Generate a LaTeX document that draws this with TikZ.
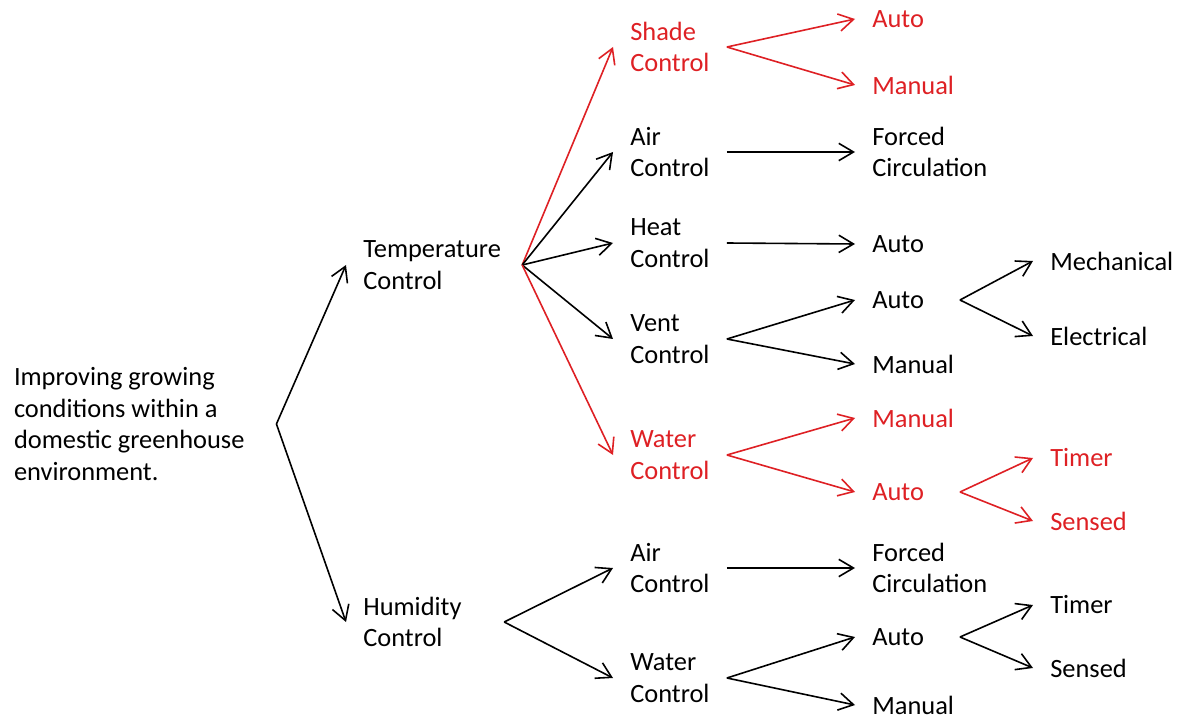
\documentclass[tikz,border=0pt]{standalone}
\usepackage{fontspec}
\setmainfont{Carlito}
\usepackage{xcolor}
\usepackage{tikz}
\usetikzlibrary{calc}
\usetikzlibrary{arrows.meta}
\definecolor{hilite}{RGB}{222,32,36}

\begin{document}
\begin{tikzpicture}[x=0.75pt,y=-0.75pt,
    lbl/.style={anchor=west, align=left, inner sep=0pt, outer xsep=13pt, outer ysep=0pt,
        font=\fontsize{19.8}{23.6}\selectfont},
    redlbl/.style={lbl, text=hilite},
    arr/.style={-{Straight Barb[length=11pt,width=13pt]}, line width=1.2pt},
    redarr/.style={arr, draw=hilite}]
        %FRAME
        \useasboundingbox (0,0) rectangle (1182,720);
        %ROOT
        \node[lbl, outer xsep=0pt] (root) at (14,424) {Improving growing\\conditions within a\\domestic greenhouse\\environment.};
        %LEVEL 1
        \node[lbl] (temp) at (346,265) {Temperature\\Control};
        \node[lbl] (hum) at (346,622) {Humidity\\Control};
        %LEVEL 2
        \node[redlbl] (shade) at (613,47) {Shade\\Control};
        \node[lbl] (tair) at (613,152) {Air\\Control};
        \node[lbl] (heat) at (613,243) {Heat\\Control};
        \node[lbl] (vent) at (613,339) {Vent\\Control};
        \node[redlbl] (twater) at (613,455) {Water\\Control};
        \node[lbl] (hair) at (613,568) {Air\\Control};
        \node[lbl] (hwater) at (613,678) {Water\\Control};
        %LEVEL 3
        \node[redlbl] (sauto) at (855,19) {Auto};
        \node[redlbl] (sman) at (855,85) {Manual};
        \node[lbl] (tforced) at (855,152) {Forced\\Circulation};
        \node[lbl] (hauto) at (855,244) {Auto};
        \node[lbl] (vauto) at (855,300) {Auto};
        \node[lbl] (vman) at (855,364) {Manual};
        \node[redlbl] (wman) at (855,418) {Manual};
        \node[redlbl] (wauto) at (855,492) {Auto};
        \node[lbl] (hforced) at (855,568) {Forced\\Circulation};
        \node[lbl] (hwauto) at (855,637) {Auto};
        \node[lbl] (hwman) at (855,705) {Manual};
        %LEVEL 4
        \node[lbl] (mech) at (1033,261) {Mechanical};
        \node[lbl] (elec) at (1033,336) {Electrical};
        \node[redlbl] (wtimer) at (1033,458) {Timer};
        \node[redlbl] (wsensed) at (1033,521) {Sensed};
        \node[lbl] (htimer) at (1033,605) {Timer};
        \node[lbl] (hsensed) at (1033,668) {Sensed};
        %ARROWS
        \coordinate (root-o) at ([xshift=24pt]root.east);
        \draw[arr] (root-o) -- (temp.west);
        \draw[arr] (root-o) -- (hum.west);
        \coordinate (temp-o) at ([xshift=3pt]temp.east);
        \draw[redarr] (temp-o) -- (shade.west);
        \draw[arr] (temp-o) -- (tair.west);
        \draw[arr] (temp-o) -- (heat.west);
        \draw[arr] (temp-o) -- (vent.west);
        \draw[redarr] (temp-o) -- (twater.west);
        \coordinate (hum-o) at ([xshift=19pt]hum.east);
        \draw[arr] (hum-o) -- (hair.west);
        \draw[arr] (hum-o) -- (hwater.west);
        \draw[redarr] (shade.east) -- (sauto.west);
        \draw[redarr] (shade.east) -- (sman.west);
        \draw[arr] (tair.east) -- (tforced.west);
        \draw[arr] (heat.east) -- (hauto.west);
        \draw[arr] (vent.east) -- (vauto.west);
        \draw[arr] (vent.east) -- (vman.west);
        \draw[redarr] (twater.east) -- (wman.west);
        \draw[redarr] (twater.east) -- (wauto.west);
        \draw[arr] (hair.east) -- (hforced.west);
        \draw[arr] (hwater.east) -- (hwauto.west);
        \draw[arr] (hwater.east) -- (hwman.west);
        \draw[arr] ([xshift=14pt]vauto.east) -- (mech.west);
        \draw[arr] ([xshift=14pt]vauto.east) -- (elec.west);
        \draw[redarr] ([xshift=14pt]wauto.east) -- (wtimer.west);
        \draw[redarr] ([xshift=14pt]wauto.east) -- (wsensed.west);
        \draw[arr] ([xshift=14pt]hwauto.east) -- (htimer.west);
        \draw[arr] ([xshift=14pt]hwauto.east) -- (hsensed.west);
    \end{tikzpicture}
\end{document}
